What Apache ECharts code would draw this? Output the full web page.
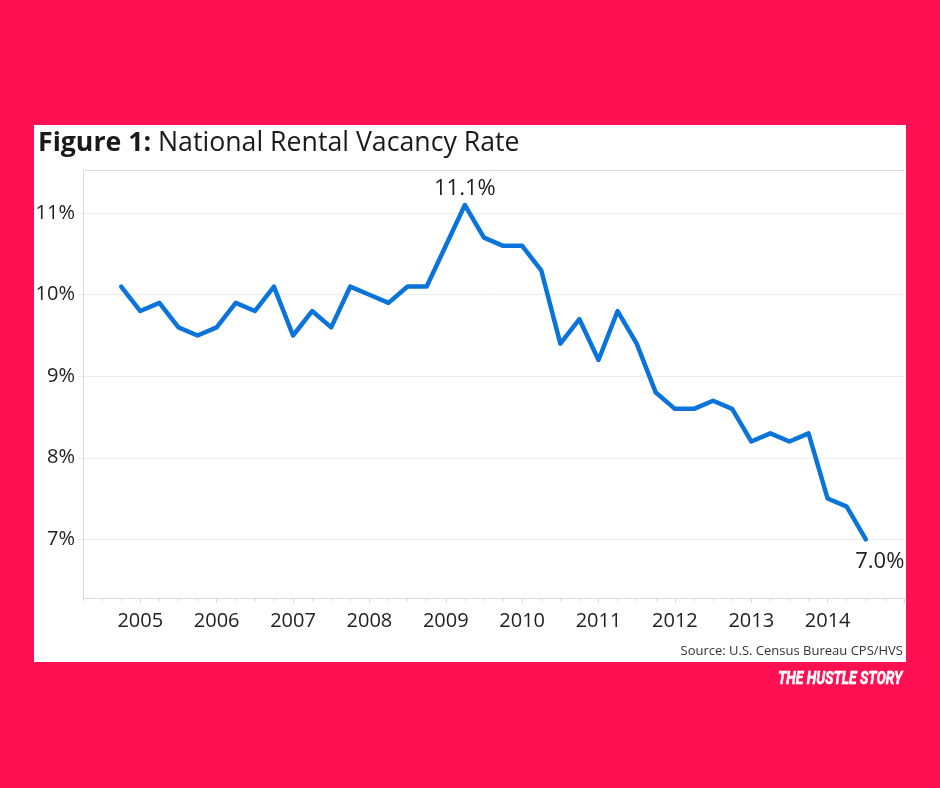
<!DOCTYPE html>
<html>
<head>
<meta charset="utf-8">
<script src="https://cdn.jsdelivr.net/npm/echarts@6/dist/echarts.min.js"></script>
<style>
html,body{margin:0;padding:0;background:#ff1053;}
#chart{width:940px;height:788px;}
</style>
</head>
<body>
<div id="chart"></div>
<script>
// ---- data ----
const quarters = [
  '2004-Q4',
  '2005-Q1','2005-Q2','2005-Q3','2005-Q4',
  '2006-Q1','2006-Q2','2006-Q3','2006-Q4',
  '2007-Q1','2007-Q2','2007-Q3','2007-Q4',
  '2008-Q1','2008-Q2','2008-Q3','2008-Q4',
  '2009-Q1','2009-Q2','2009-Q3','2009-Q4',
  '2010-Q1','2010-Q2','2010-Q3','2010-Q4',
  '2011-Q1','2011-Q2','2011-Q3','2011-Q4',
  '2012-Q1','2012-Q2','2012-Q3','2012-Q4',
  '2013-Q1','2013-Q2','2013-Q3','2013-Q4',
  '2014-Q1','2014-Q2','2014-Q3'
];
const vacancyRate = [
  10.1,
  9.8, 9.9, 9.6, 9.5,
  9.6, 9.9, 9.8, 10.1,
  9.5, 9.8, 9.6, 10.1,
  10.0, 9.9, 10.1, 10.1,
  10.6, 11.1, 10.7, 10.6,
  10.6, 10.3, 9.4, 9.7,
  9.2, 9.8, 9.4, 8.8,
  8.6, 8.6, 8.7, 8.6,
  8.2, 8.3, 8.2, 8.3,
  7.5, 7.4, 7.0
];
const yearLabels = [2005, 2006, 2007, 2008, 2009, 2010, 2011, 2012, 2013, 2014];
const yTickValues = [7, 8, 9, 10, 11];
const annotatedQuarters = ['2009-Q2', '2014-Q3'];
const titleBold = 'Figure 1:';
const titleRest = ' National Rental Vacancy Rate';
const sourceText = 'Source: U.S. Census Bureau CPS/HVS';
const brandText = 'THE HUSTLE STORY';

// ---- build ----
function qToX(q) {
  const [y, qq] = q.split('-Q');
  return Number(y) + (Number(qq) - 1) / 4;
}
const X_MIN = 2004.25, X_MAX = 2015;
const majorTicks = yearLabels.concat([2015]);
const minorTicks = [];
for (let t = X_MIN; t <= X_MAX + 1e-9; t += 0.25) minorTicks.push(t);

const lineColor = '#0b74da';
const seriesData = quarters.map((q, i) => {
  const item = { value: [qToX(q), vacancyRate[i]] };
  const ai = annotatedQuarters.indexOf(q);
  if (ai === 0) {
    item.label = { show: true, position: 'top', distance: 5 };
  } else if (ai === 1) {
    item.label = { show: true, position: 'bottom', distance: 11, offset: [14, 0] };
  }
  return item;
});

const chart = echarts.init(document.getElementById('chart'), null, { renderer: 'canvas' });
const FONT = '"Open Sans", "Noto Sans", sans-serif';
const gridLine = '#ececec';
const axisGrey = '#d9d9d9';

chart.setOption({
  backgroundColor: '#ff1053',
  animation: false,
  textStyle: { fontFamily: FONT },
  graphic: [
    { type: 'rect', z: -10, shape: { x: 34, y: 125, width: 872, height: 537 }, style: { fill: '#ffffff' } },
    {
      type: 'text', x: 38, y: 130,
      style: {
        rich: {
          b: { fontFamily: FONT, fontWeight: 'bold', fontSize: 26.7, fill: '#1a1a1a' },
          n: { fontFamily: FONT, fontWeight: 'normal', fontSize: 26.7, fill: '#1a1a1a' }
        },
        text: '{b|' + titleBold + '}{n|' + titleRest + '}'
      }
    },
    {
      type: 'text', x: 903, y: 645,
      style: { text: sourceText, fontFamily: FONT, fontSize: 13, fill: '#333333', align: 'right' }
    },
    {
      type: 'text', x: 778, y: 670, scaleX: 0.73,
      style: {
        text: brandText, fontFamily: 'Roboto, sans-serif',
        fontWeight: 'bold', fontStyle: 'italic', fontSize: 19, fill: '#ffffff',
        stroke: '#ffffff', lineWidth: 0.6
      }
    }
  ],
  grid: { left: 83, right: 36, top: 170, bottom: 190 },
  xAxis: [
    {
      type: 'value', min: X_MIN, max: X_MAX, position: 'bottom',
      axisLine: { show: true, lineStyle: { color: axisGrey, width: 1 } },
      axisTick: { show: true, customValues: majorTicks, length: 5, lineStyle: { color: axisGrey } },
      axisLabel: { show: true, customValues: yearLabels, margin: 13, fontSize: 20, color: '#222222', fontFamily: FONT,
        formatter: v => String(Math.round(v)) },
      splitLine: { show: false }
    },
    {
      type: 'value', min: X_MIN, max: X_MAX, position: 'bottom',
      axisLine: { show: false },
      axisTick: { show: true, customValues: minorTicks, length: 3, lineStyle: { color: axisGrey } },
      axisLabel: { show: false },
      splitLine: { show: false }
    },
    {
      type: 'value', min: X_MIN, max: X_MAX, position: 'top',
      axisLine: { show: true, lineStyle: { color: axisGrey, width: 1 } },
      axisTick: { show: false },
      axisLabel: { show: false },
      splitLine: { show: false }
    }
  ],
  yAxis: {
    type: 'value', min: 6.28, max: 11.53,
    axisLine: { show: true, lineStyle: { color: axisGrey, width: 1 } },
    axisTick: { show: true, customValues: yTickValues, length: 5, lineStyle: { color: gridLine } },
    axisLabel: { show: true, customValues: yTickValues, margin: 8, fontSize: 20, color: '#222222', fontFamily: FONT,
      formatter: v => Math.round(v) + '%' },
    splitLine: { show: true, lineStyle: { color: gridLine, width: 1 } }
  },
  series: [{
    type: 'line',
    xAxisIndex: 0,
    data: seriesData,
    symbol: 'circle',
    symbolSize: 0,
    showSymbol: true,
    lineStyle: { color: lineColor, width: 4.5, join: 'round', cap: 'round' },
    itemStyle: { color: lineColor },
    label: {
      fontSize: 22, color: '#222222', fontFamily: FONT,
      formatter: p => p.value[1].toFixed(1) + '%'
    },
    z: 5
  }]
});
</script>
</body>
</html>
